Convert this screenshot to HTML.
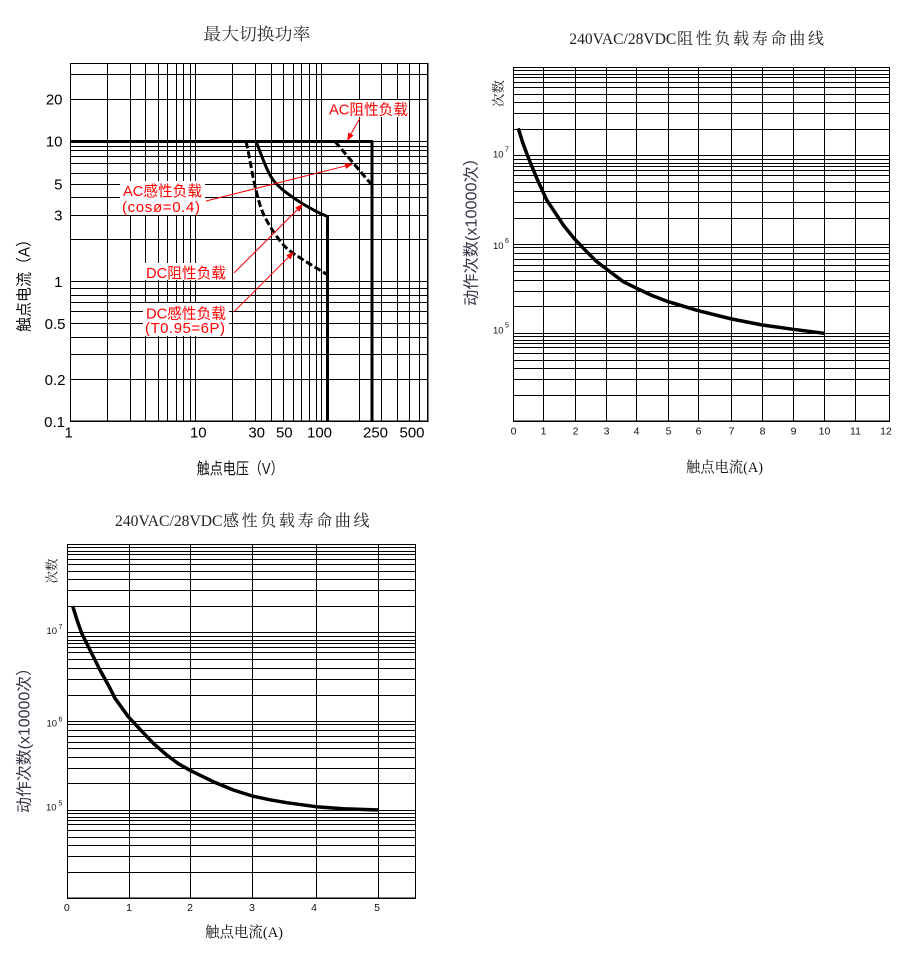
<!DOCTYPE html>
<html><head><meta charset="utf-8"><style>html,body{margin:0;padding:0;background:#fff}svg{display:block}</style></head>
<body>
<svg width="902" height="960" viewBox="0 0 902 960" xmlns="http://www.w3.org/2000/svg">
<rect width="902" height="960" fill="#fff"/>

<!-- ============ Chart 1 : 最大切换功率 ============ -->
<g stroke="#000" stroke-width="1" shape-rendering="crispEdges" fill="none">
<path d="M70.5,63.5V421.5 M107.5,63.5V421.5 M130.5,63.5V421.5 M145.5,63.5V421.5 M158.5,63.5V421.5 M167.5,63.5V421.5 M176.5,63.5V421.5 M183.5,63.5V421.5 M190.5,63.5V421.5 M195.5,63.5V421.5 M232.5,63.5V421.5 M255.5,63.5V421.5 M271.5,63.5V421.5 M283.5,63.5V421.5 M293.5,63.5V421.5 M301.5,63.5V421.5 M309.5,63.5V421.5 M316.5,63.5V421.5 M321.5,63.5V421.5 M359.5,63.5V421.5 M381.5,63.5V421.5 M397.5,63.5V421.5 M409.5,63.5V421.5 M419.5,63.5V421.5 M427.5,63.5V421.5"/>
<path d="M70,63.5H428 M70,74.5H428 M70,99.5H428 M70,141.5H428 M70,146.5H428 M70,150.5H428 M70,156.5H428 M70,163.5H428 M70,173.5H428 M70,184.5H428 M70,197.5H428 M70,215.5H428 M70,239.5H428 M70,281.5H428 M70,288.5H428 M70,295.5H428 M70,302.5H428 M70,311.5H428 M70,323.5H428 M70,337.5H428 M70,354.5H428 M70,379.5H428 M70,421.5H428"/>
</g>
<rect x="427" y="63" width="1.5" height="359" fill="#000"/>
<rect x="70" y="420.5" width="358" height="1.5" fill="#000"/>

<!-- curves -->
<g fill="none" stroke="#000" stroke-width="3" stroke-linejoin="round">
<path d="M70,141.5H372V421.5"/>
<path d="M256,141.5 C262,156 267,172 273.5,180.5 C280,189 292,197 303,204 C312,209.5 320,213.5 327.5,216.5 V421.5"/>
<path d="M335,141.5 L371,184" stroke-dasharray="7 3"/>
<path d="M246,141.5 C250,158 252,175 256,190 C259,203 262,213 268.3,223.3 C274,233 280,242 288,249.5 C297,256.5 310,264 326.7,274.3" stroke-dasharray="7 3"/>
</g>

<!-- red annotations -->
<g stroke="#ff0000" stroke-width="1" fill="none">
<path d="M360,118 L348.5,138.5"/>
<path d="M206,201 L350,164.8"/>
<path d="M234,273 L300.5,206.5"/>
<path d="M234,311.7 L291.5,254.2"/>
</g>
<g fill="#ff0000">
<polygon points="347,141 353.55,135.5 348.33,132.55"/>
<polygon points="353,164 345.97,168.86 344.51,163.04"/>
<polygon points="303,204 299.46,211.78 295.22,207.54"/>
<polygon points="294,251.7 290.46,259.48 286.22,255.24"/>
</g>
<g fill="#fff">
<rect x="327" y="100" width="82" height="17"/>
<rect x="120" y="181" width="85" height="34"/>
<rect x="144" y="263" width="85" height="17"/>
<rect x="143" y="303" width="86" height="33"/>
</g>
<g fill="#ff0000" font-family="'Liberation Sans','Noto Sans CJK SC',sans-serif" font-size="15">
<text x="329" y="114.5" textLength="79" lengthAdjust="spacingAndGlyphs">AC阻性负载</text>
<text x="123" y="196" textLength="79" lengthAdjust="spacingAndGlyphs">AC感性负载</text>
<text x="122" y="212" textLength="78" lengthAdjust="spacing">(cosø=0.4)</text>
<text x="146" y="278" textLength="80" lengthAdjust="spacingAndGlyphs">DC阻性负载</text>
<text x="146" y="318.5" textLength="80" lengthAdjust="spacingAndGlyphs">DC感性负载</text>
<text x="145" y="333" textLength="80" lengthAdjust="spacing">(T0.95=6P)</text>
</g>

<!-- axes text -->
<g fill="#000" font-family="'Liberation Sans',sans-serif" font-size="15">
<g text-anchor="end">
<text x="62.5" y="104.5">20</text>
<text x="62.5" y="146.5">10</text>
<text x="62.5" y="189.5">5</text>
<text x="62.5" y="220.5">3</text>
<text x="62.5" y="287">1</text>
<text x="65.5" y="329">0.5</text>
<text x="65.5" y="385">0.2</text>
<text x="65" y="427">0.1</text>
</g>
<g text-anchor="middle">
<text x="68.7" y="437.5">1</text>
<text x="198.3" y="437.5">10</text>
<text x="256.7" y="437.5">30</text>
<text x="284.3" y="437.5">50</text>
<text x="319.5" y="437.5">100</text>
<text x="375.5" y="437.5">250</text>
<text x="412" y="437.5">500</text>
</g>
</g>
<g fill="#111" font-family="'Liberation Sans','Noto Sans CJK SC',sans-serif" font-size="16">
<text x="196.7" y="474" textLength="87" lengthAdjust="spacingAndGlyphs">触点电压（V）</text>
<text transform="translate(25,282) rotate(-90)" text-anchor="middle" dominant-baseline="central" textLength="100" lengthAdjust="spacingAndGlyphs">触点电流（A）</text>
</g>
<text x="203.3" y="40" fill="#333" font-family="'Liberation Serif','Noto Serif CJK SC',serif" font-size="17" textLength="107" lengthAdjust="spacingAndGlyphs">最大切换功率</text>

<!-- ============ Chart 2 : 阻性负载寿命曲线 ============ -->
<g stroke="#000" stroke-width="1" shape-rendering="crispEdges" fill="none">
<path d="M513.5,67.5V421.5 M543.5,67.5V421.5 M575.5,67.5V421.5 M606.5,67.5V421.5 M636.5,67.5V421.5 M668.5,67.5V421.5 M698.5,67.5V421.5 M731.5,67.5V421.5 M762.5,67.5V421.5 M793.5,67.5V421.5 M824.5,67.5V421.5 M855.5,67.5V421.5 M889.5,67.5V421.5"/>
<path d="M513,67.5H890 M513,70.5H890 M513,74.5H890 M513,77.5H890 M513,82.5H890 M513,87.5H890 M513,94.5H890 M513,102.5H890 M513,113.5H890 M513,129.5H890 M513,155.5H890 M513,159.5H890 M513,163.5H890 M513,166.5H890 M513,170.5H890 M513,175.5H890 M513,182.5H890 M513,191.5H890 M513,202.5H890 M513,218.5H890 M513,244.5H890 M513,247.5H890 M513,253.5H890 M513,259.5H890 M513,265.5H890 M513,271.5H890 M513,280.5H890 M513,291.5H890 M513,306.5H890 M513,333.5H890 M513,336.5H890 M513,340.5H890 M513,343.5H890 M513,347.5H890 M513,353.5H890 M513,360.5H890 M513,368.5H890 M513,379.5H890 M513,395.5H890 M513,421.5H890"/>
</g>
<rect x="513" y="420.5" width="377" height="1.5" fill="#000"/>
<polyline fill="none" stroke="#000" stroke-width="3.5" stroke-linejoin="round" stroke-linecap="butt" points="518.3,128.3 522.5,142 527.3,155 532.5,168 538.3,181.7 546.7,200 556.7,215 563.3,225 574,238.3 586.7,251.7 596,261 606.7,269.3 623.3,281.7 636.7,288.3 652,295.5 668.3,301.7 698.3,310.7 731.7,319 762.3,325 793.3,329.3 824.3,333.3"/>
<g fill="#111" font-family="'Liberation Sans',sans-serif">
<g font-size="9.5"><text x="493" y="157.5">10</text><text x="493" y="249">10</text><text x="493" y="333.5">10</text></g>
<g font-size="7"><text x="505" y="151.5">7</text><text x="505" y="243">6</text><text x="505" y="327.5">5</text></g>
<g font-size="10.5" text-anchor="middle">
<text x="513.5" y="434.5">0</text><text x="543.5" y="434.5">1</text><text x="575.5" y="434.5">2</text><text x="606.5" y="434.5">3</text><text x="636.5" y="434.5">4</text><text x="668.5" y="434.5">5</text><text x="698.5" y="434.5">6</text><text x="731.5" y="434.5">7</text><text x="762.5" y="434.5">8</text><text x="793.5" y="434.5">9</text><text x="824.5" y="434.5">10</text><text x="855.5" y="434.5">11</text><text x="886" y="434.5">12</text>
</g>
</g>
<text transform="translate(498.5,93.5) rotate(-90)" text-anchor="middle" dominant-baseline="central" fill="#222" font-family="'Liberation Serif','Noto Serif CJK SC',serif" font-size="13" textLength="27" lengthAdjust="spacingAndGlyphs">次数</text>
<text transform="translate(472,228) rotate(-90)" text-anchor="middle" dominant-baseline="central" fill="#333344" font-family="'Liberation Sans','Noto Sans CJK SC',sans-serif" font-size="16" textLength="156" lengthAdjust="spacingAndGlyphs">动作次数(x10000次）</text>
<text x="686" y="472" fill="#111" font-family="'Liberation Serif','Noto Serif CJK SC',serif" font-size="15" textLength="77" lengthAdjust="spacingAndGlyphs">触点电流(A)</text>
<g fill="#222">
<text x="569.3" y="44" font-family="'Liberation Serif',serif" font-size="16" textLength="107" lengthAdjust="spacingAndGlyphs">240VAC/28VDC</text>
<text x="677" y="44" font-family="'Noto Serif CJK SC','Liberation Serif',serif" font-size="16" textLength="147" lengthAdjust="spacing">阻性负载寿命曲线</text>
</g>

<!-- ============ Chart 3 : 感性负载寿命曲线 ============ -->
<g stroke="#000" stroke-width="1" shape-rendering="crispEdges" fill="none">
<path d="M67.5,544.5V898.5 M129.5,544.5V898.5 M190.5,544.5V898.5 M252.5,544.5V898.5 M316.5,544.5V898.5 M378.5,544.5V898.5 M415.5,544.5V898.5"/>
<path d="M67,544.5H416 M67,547.5H416 M67,551.5H416 M67,554.5H416 M67,559.5H416 M67,564.5H416 M67,571.5H416 M67,579.5H416 M67,590.5H416 M67,606.5H416 M67,632.5H416 M67,636.5H416 M67,640.5H416 M67,643.5H416 M67,647.5H416 M67,652.5H416 M67,659.5H416 M67,668.5H416 M67,679.5H416 M67,695.5H416 M67,721.5H416 M67,724.5H416 M67,730.5H416 M67,736.5H416 M67,742.5H416 M67,748.5H416 M67,757.5H416 M67,768.5H416 M67,783.5H416 M67,810.5H416 M67,813.5H416 M67,817.5H416 M67,820.5H416 M67,824.5H416 M67,830.5H416 M67,837.5H416 M67,845.5H416 M67,856.5H416 M67,872.5H416 M67,898.5H416"/>
</g>
<rect x="67" y="897.5" width="349" height="1.5" fill="#000"/>
<polyline fill="none" stroke="#000" stroke-width="3.5" stroke-linejoin="round" points="72.7,606 77,620 81.7,633.3 90,650 100,670 110,688.3 115,698.3 128.3,716.7 140,729.3 153.3,743.3 166.7,755 178,763.5 190.7,770.7 213.3,781.7 233.3,790 252.3,796 270,799.8 286.7,802.7 316,806.7 343.3,808.7 378.7,810"/>
<g fill="#111" font-family="'Liberation Sans',sans-serif">
<g font-size="9.5"><text x="46.5" y="634">10</text><text x="46.5" y="726.7">10</text><text x="46" y="810.7">10</text></g>
<g font-size="7"><text x="58.5" y="629">7</text><text x="58.5" y="721.5">6</text><text x="58.5" y="805.5">5</text></g>
<g font-size="10.5" text-anchor="middle">
<text x="66.8" y="911">0</text><text x="129" y="911">1</text><text x="190" y="911">2</text><text x="252" y="911">3</text><text x="314" y="911">4</text><text x="377" y="911">5</text>
</g>
</g>
<text transform="translate(52,571) rotate(-90)" text-anchor="middle" dominant-baseline="central" fill="#222" font-family="'Liberation Serif','Noto Serif CJK SC',serif" font-size="13" textLength="25" lengthAdjust="spacingAndGlyphs">次数</text>
<text transform="translate(25,736.5) rotate(-90)" text-anchor="middle" dominant-baseline="central" fill="#333344" font-family="'Liberation Sans','Noto Sans CJK SC',sans-serif" font-size="16" textLength="153" lengthAdjust="spacingAndGlyphs">动作次数(x10000次）</text>
<text x="205" y="937" fill="#111" font-family="'Liberation Serif','Noto Serif CJK SC',serif" font-size="15" textLength="78" lengthAdjust="spacingAndGlyphs">触点电流(A)</text>
<g fill="#222">
<text x="115" y="526" font-family="'Liberation Serif',serif" font-size="16" textLength="107.5" lengthAdjust="spacingAndGlyphs">240VAC/28VDC</text>
<text x="223" y="526" font-family="'Noto Serif CJK SC','Liberation Serif',serif" font-size="16" textLength="146.5" lengthAdjust="spacing">感性负载寿命曲线</text>
</g>
</svg>
</body></html>
